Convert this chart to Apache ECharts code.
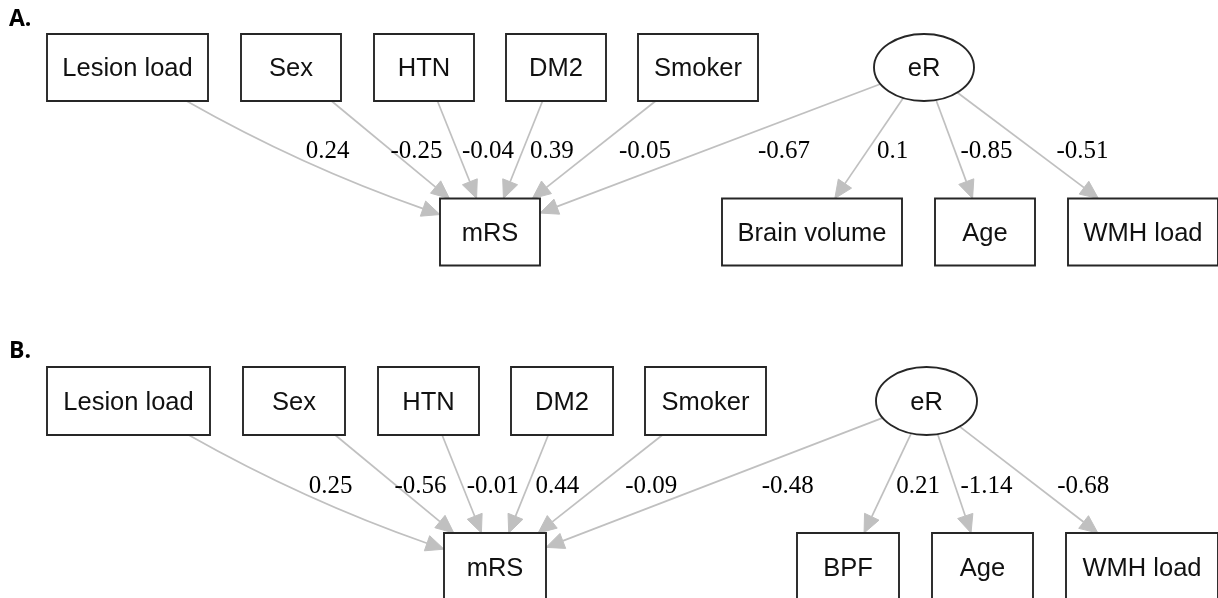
<!DOCTYPE html>
<html><head><meta charset="utf-8">
<script src="https://cdn.jsdelivr.net/npm/echarts@6/dist/echarts.min.js"></script>
<style>html,body{margin:0;padding:0;background:#fff}#c{width:1218px;height:598px}</style>
</head><body><div id="c"></div>
<script>
// ---------------- data ----------------
const panelTitles = ['A.', 'B.'];
const predictors = ['Lesion load', 'Sex', 'HTN', 'DM2', 'Smoker'];
const outcome = 'mRS';
const latent = 'eR';
const indicatorsA = ['Brain volume', 'Age', 'WMH load'];
const indicatorsB = ['BPF', 'Age', 'WMH load'];
const predictorCoefA = [0.24, -0.25, -0.04, 0.39, -0.05];
const latentToOutcomeA = -0.67;
const loadingsA = [0.1, -0.85, -0.51];
const predictorCoefB = [0.25, -0.56, -0.01, 0.44, -0.09];
const latentToOutcomeB = -0.48;
const loadingsB = [0.21, -1.14, -0.68];

// ---------------- layout (diagram units) ----------------
const layoutA = {
  top: 67.5, bottom: 232, h: 67,
  predX: [127.5, 291, 424, 556, 698], predW: [161, 100, 100, 100, 120],
  outX: 490, outW: 100,
  latX: 924, latW: 100,
  indX: [812, 985, 1143], indW: [180, 100, 150],
  titleTop: 8
};
const layoutB = {
  top: 401, bottom: 567, h: 68,
  predX: [128.5, 294, 428.5, 562, 705.5], predW: [163, 102, 101, 102, 121],
  outX: 495, outW: 102,
  latX: 926.5, latW: 101,
  indX: [848, 982.5, 1142], indW: [102, 101, 152],
  titleTop: 340
};
const labelGap = [-3, 0, 5, 7, 25, 51, 9, 6, 23];
const curveOffset = [18, 0, 0, 0, 0, 0, 0, 0, 0];

// ---------------- build graph ----------------
const nodes = [];
const edges = [];
function buildPanel(lay, indicators, coefs, latCoef, loadings) {
  const base = nodes.length;
  predictors.forEach((p, i) => nodes.push({ name: p, x: lay.predX[i], y: lay.top, w: lay.predW[i], h: lay.h, shape: 'rect' }));
  const outIdx = nodes.length;
  nodes.push({ name: outcome, x: lay.outX, y: lay.bottom, w: lay.outW, h: lay.h, shape: 'rect' });
  const latIdx = nodes.length;
  nodes.push({ name: latent, x: lay.latX, y: lay.top, w: lay.latW, h: lay.h, shape: 'ellipse' });
  const indBase = nodes.length;
  indicators.forEach((p, i) => nodes.push({ name: p, x: lay.indX[i], y: lay.bottom, w: lay.indW[i], h: lay.h, shape: 'rect' }));
  let k = 0;
  coefs.forEach((c, i) => { edges.push({ s: base + i, t: outIdx, v: c, gap: labelGap[k], curve: curveOffset[k] }); k++; });
  edges.push({ s: latIdx, t: outIdx, v: latCoef, gap: labelGap[k], curve: curveOffset[k] }); k++;
  loadings.forEach((c, i) => { edges.push({ s: latIdx, t: indBase + i, v: c, gap: labelGap[k], curve: curveOffset[k] }); k++; });
}
buildPanel(layoutA, indicatorsA, predictorCoefA, latentToOutcomeA, loadingsA);
buildPanel(layoutB, indicatorsB, predictorCoefB, latentToOutcomeB, loadingsB);

const EDGE_COLOR = '#c0c0c0';
const ARROW_LEN = 18, ARROW_HALF = 8;

function clipT(shape, hw, hh, dx, dy) {
  if (shape === 'ellipse') return 1 / Math.sqrt((dx / hw) ** 2 + (dy / hh) ** 2);
  const a = dx ? hw / Math.abs(dx) : Infinity;
  const b = dy ? hh / Math.abs(dy) : Infinity;
  return Math.min(a, b);
}

const chart = echarts.init(document.getElementById('c'), null, { renderer: 'canvas' });
chart.setOption({
  backgroundColor: '#fff',
  animation: false,
  title: panelTitles.map((t, i) => ({
    text: t, left: 9, top: (i === 0 ? layoutA : layoutB).titleTop, padding: 0,
    textStyle: { fontFamily: '"Open Sans", "DejaVu Sans", sans-serif', fontWeight: 'bold', fontSize: 23, color: '#000' }
  })),
  grid: { left: 0, right: 0, top: 0, bottom: 0 },
  xAxis: { type: 'value', min: 0, max: 1218, show: false },
  yAxis: { type: 'value', min: 0, max: 598, inverse: true, show: false },
  series: [
    {
      type: 'custom', z: 1, silent: true, clip: false,
      data: edges.map(e => [nodes[e.s].x, nodes[e.s].y, nodes[e.t].x, nodes[e.t].y]),
      renderItem(params, api) {
        const e = edges[params.dataIndex];
        const sN = nodes[e.s], tN = nodes[e.t];
        const S = api.coord([api.value(0), api.value(1)]);
        const T = api.coord([api.value(2), api.value(3)]);
        const sSz = api.size([sN.w, sN.h]).map(Math.abs);
        const tSz = api.size([tN.w, tN.h]).map(Math.abs);
        const D = [T[0] - S[0], T[1] - S[1]];
        const len = Math.hypot(D[0], D[1]);
        const mid = [(S[0] + T[0]) / 2, (S[1] + T[1]) / 2];
        const perp = [-D[1] / len, D[0] / len];
        const C = [mid[0] + perp[0] * e.curve, mid[1] + perp[1] * e.curve];
        const d1 = [C[0] - S[0], C[1] - S[1]];
        const ts = clipT(sN.shape, sSz[0] / 2, sSz[1] / 2, d1[0], d1[1]);
        const start = [S[0] + d1[0] * ts, S[1] + d1[1] * ts];
        const d2 = [T[0] - C[0], T[1] - C[1]];
        const tt = clipT(tN.shape, tSz[0] / 2, tSz[1] / 2, d2[0], d2[1]);
        const end = [T[0] - d2[0] * tt, T[1] - d2[1] * tt];
        const l2 = Math.hypot(d2[0], d2[1]);
        const u = [d2[0] / l2, d2[1] / l2];
        const baseP = [end[0] - u[0] * ARROW_LEN, end[1] - u[1] * ARROW_LEN];
        const n = [-u[1], u[0]];
        const children = [];
        if (e.curve) {
          children.push({ type: 'bezierCurve', shape: { x1: start[0], y1: start[1], x2: baseP[0], y2: baseP[1], cpx1: C[0], cpy1: C[1] },
            style: { stroke: EDGE_COLOR, lineWidth: 1.7, fill: null } });
        } else {
          children.push({ type: 'line', shape: { x1: start[0], y1: start[1], x2: baseP[0], y2: baseP[1] },
            style: { stroke: EDGE_COLOR, lineWidth: 1.7 } });
        }
        children.push({ type: 'polygon', shape: { points: [end, [baseP[0] + n[0] * ARROW_HALF, baseP[1] + n[1] * ARROW_HALF], [baseP[0] - n[0] * ARROW_HALF, baseP[1] - n[1] * ARROW_HALF]] },
          style: { fill: EDGE_COLOR, stroke: EDGE_COLOR, lineWidth: 1 } });
        const ym = (S[1] + T[1]) / 2;
        const xm = S[0] + D[0] * (ym - S[1]) / D[1];
        children.push({ type: 'text', style: { text: String(e.v), x: xm + e.gap, y: ym + 2, align: 'left', verticalAlign: 'middle',
          font: '25px "Liberation Serif", "Times New Roman", serif', fill: '#000' } });
        return { type: 'group', children };
      }
    },
    {
      type: 'custom', z: 2, silent: true, clip: false,
      data: nodes.map(n => [n.x, n.y, n.w, n.h]),
      renderItem(params, api) {
        const nd = nodes[params.dataIndex];
        const c = api.coord([api.value(0), api.value(1)]);
        const s = api.size([api.value(2), api.value(3)]).map(Math.abs);
        const stroke = { stroke: '#262626', lineWidth: 1.9, fill: '#fff' };
        const box = nd.shape === 'ellipse'
          ? { type: 'ellipse', shape: { cx: c[0], cy: c[1], rx: s[0] / 2, ry: s[1] / 2 }, style: stroke }
          : { type: 'rect', shape: { x: c[0] - s[0] / 2, y: c[1] - s[1] / 2, width: s[0], height: s[1] }, style: stroke };
        return { type: 'group', children: [box, { type: 'text', style: { text: nd.name, x: c[0], y: c[1] + 1.5, align: 'center', verticalAlign: 'middle',
          font: '25.5px "Liberation Sans", Arial, sans-serif', fill: '#111' } }] };
      }
    }
  ]
});
</script></body></html>
